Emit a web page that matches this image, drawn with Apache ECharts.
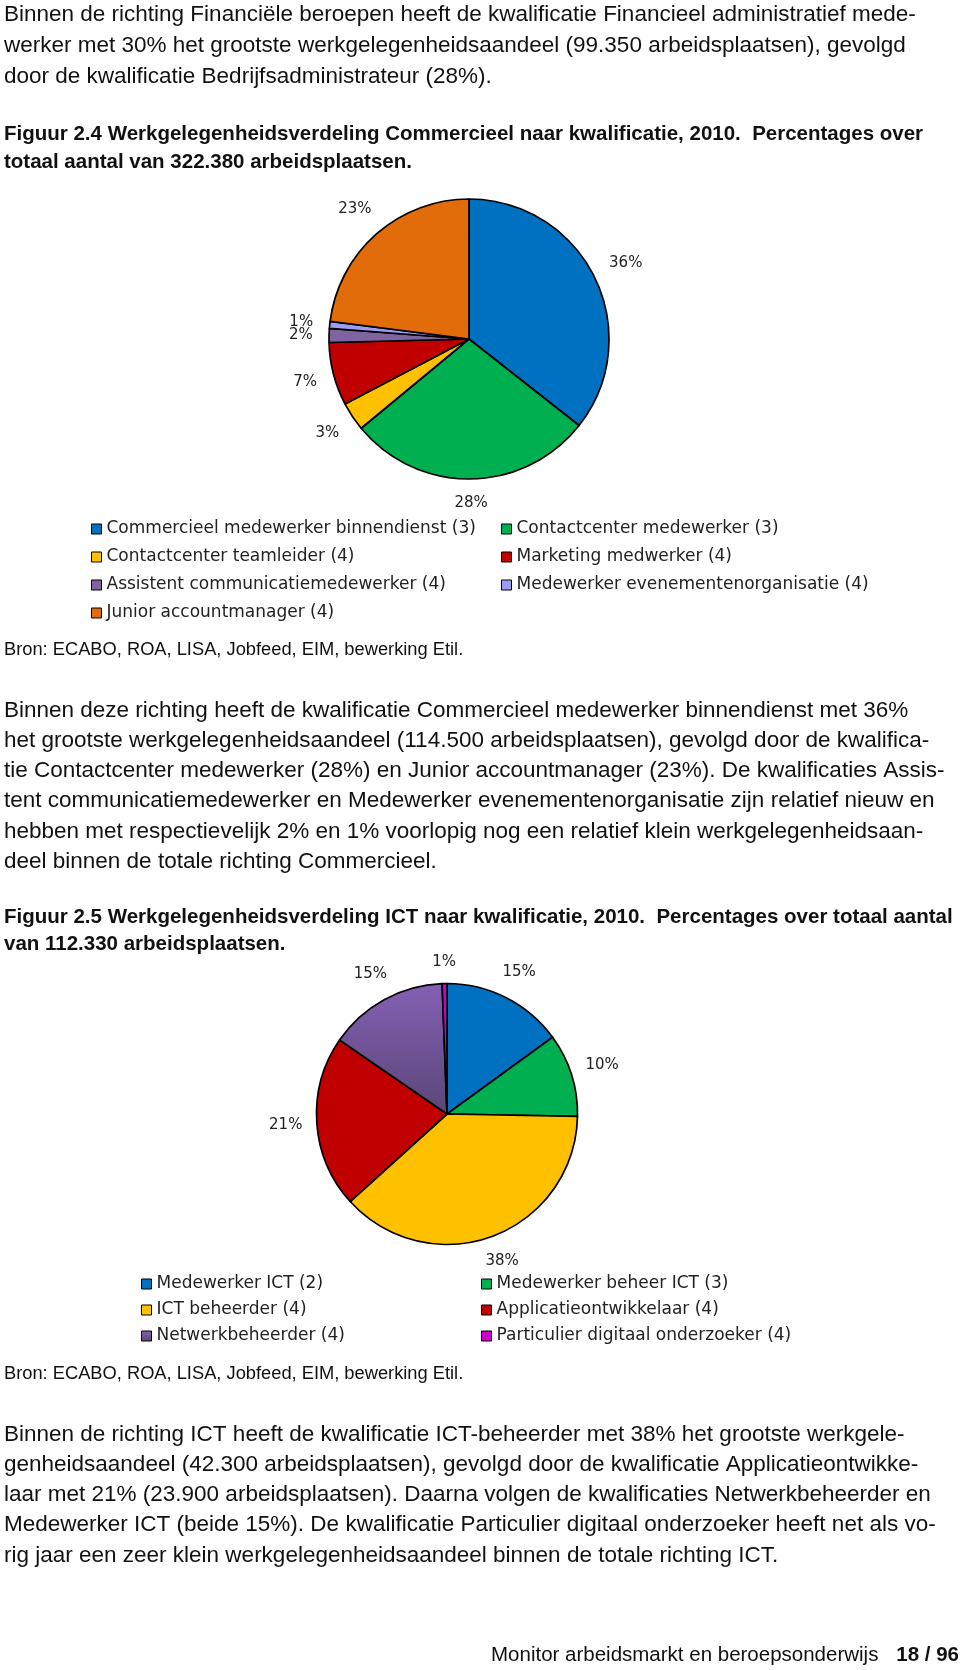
<!DOCTYPE html>
<html><head><meta charset="utf-8">
<script src="https://cdn.jsdelivr.net/npm/echarts@6/dist/echarts.min.js"></script>
<style>html,body{margin:0;padding:0;background:#fff}#c{width:960px;height:1670px}</style>
</head><body><div id="c"></div>
<script>
// ---- data ----
const commCategories = ['Commercieel medewerker binnendienst (3)', 'Contactcenter medewerker (3)', 'Contactcenter teamleider (4)', 'Marketing medwerker (4)', 'Assistent communicatiemedewerker (4)', 'Medewerker evenementenorganisatie (4)', 'Junior accountmanager (4)'];
const commValues = [35.6, 28.4, 3.3, 7.3, 1.6, 0.8, 23.0];
const ictCategories = ['Medewerker ICT (2)', 'Medewerker beheer ICT (3)', 'ICT beheerder (4)', 'Applicatieontwikkelaar (4)', 'Netwerkbeheerder (4)', 'Particulier digitaal onderzoeker (4)'];
const ictValues = [15.0, 10.3, 38.0, 21.3, 14.8, 0.6];

const para1 = ['Binnen de richting Financiële beroepen heeft de kwalificatie Financieel administratief mede-', 'werker met 30% het grootste werkgelegenheidsaandeel (99.350 arbeidsplaatsen), gevolgd', 'door de kwalificatie Bedrijfsadministrateur (28%).'];
const title1 = ['Figuur 2.4 Werkgelegenheidsverdeling Commercieel naar kwalificatie, 2010.  Percentages over', 'totaal aantal van 322.380 arbeidsplaatsen.'];
const source = 'Bron: ECABO, ROA, LISA, Jobfeed, EIM, bewerking Etil.';
const para2 = ['Binnen deze richting heeft de kwalificatie Commercieel medewerker binnendienst met 36%', 'het grootste werkgelegenheidsaandeel (114.500 arbeidsplaatsen), gevolgd door de kwalifica-', 'tie Contactcenter medewerker (28%) en Junior accountmanager (23%). De kwalificaties Assis-', 'tent communicatiemedewerker en Medewerker evenementenorganisatie zijn relatief nieuw en', 'hebben met respectievelijk 2% en 1% voorlopig nog een relatief klein werkgelegenheidsaan-', 'deel binnen de totale richting Commercieel.'];
const title2 = ['Figuur 2.5 Werkgelegenheidsverdeling ICT naar kwalificatie, 2010.  Percentages over totaal aantal', 'van 112.330 arbeidsplaatsen.'];
const para3 = ['Binnen de richting ICT heeft de kwalificatie ICT-beheerder met 38% het grootste werkgele-', 'genheidsaandeel (42.300 arbeidsplaatsen), gevolgd door de kwalificatie Applicatieontwikke-', 'laar met 21% (23.900 arbeidsplaatsen). Daarna volgen de kwalificaties Netwerkbeheerder en', 'Medewerker ICT (beide 15%). De kwalificatie Particulier digitaal onderzoeker heeft net als vo-', 'rig jaar een zeer klein werkgelegenheidsaandeel binnen de totale richting ICT.'];
const footerText = 'Monitor arbeidsmarkt en beroepsonderwijs';
const footerPage = '18 / 96';

// ---- styles ----
const commColors = ['#0070C0', '#00B050', '#FFC000', '#C00000', '#8064A2', '#9D9DF5', '#E36C0A'];
const ictColors = ['#0070C0', '#00B050', '#FFC000', '#C00000',
  {type: 'linear', x: 0, y: 0, x2: 0, y2: 1, colorStops: [{offset: 0, color: '#8460B4'}, {offset: 1, color: '#5A4676'}]},
  '#CC00CC'];
const bodyFont = '22.5px "Liberation Sans", Arial, sans-serif';
const boldFont = 'bold 20.5px "Liberation Sans", Arial, sans-serif';
const srcFont = '18.3px "Liberation Sans", Arial, sans-serif';
const chartFont = '"DejaVu Sans", Verdana, sans-serif';

function lines(arr, x, yCenters, font, align) {
  return arr.map((t, i) => ({
    type: 'text', x: x, y: yCenters[i], silent: true,
    style: {text: t, font: font, fill: '#111', verticalAlign: 'middle', align: align || 'left'}
  }));
}

function pieSeries(cats, vals, colors, center, r, gap) {
  const total = vals.reduce((a, b) => a + b, 0);
  return {
    type: 'pie', center: center, radius: r, startAngle: 90, clockwise: true, silent: true,
    animation: false, emphasis: {disabled: true}, avoidLabelOverlap: false,
    data: cats.map((c, i) => ({name: c, value: vals[i], itemStyle: {color: colors[i]}})),
    label: {show: true, position: 'outside', formatter: p => Math.round(p.percent) + '%',
      fontFamily: chartFont, fontSize: 15, color: '#222'},
    labelLine: {show: false},
    labelLayout: function (p) {
      const i = p.dataIndex;
      let cum = 0;
      for (let k = 0; k < i; k++) cum += vals[k];
      const mid = (cum + vals[i] / 2) / total * Math.PI * 2;
      const ux = Math.sin(mid), uy = -Math.cos(mid);
      const w = p.labelRect.width / 2, h = p.labelRect.height / 2;
      const d = r + gap + Math.abs(ux) * w + Math.abs(uy) * h;
      return {x: center[0] + ux * d, y: center[1] + uy * d, align: 'center', verticalAlign: 'middle', hideOverlap: false};
    },
    itemStyle: {borderColor: '#000', borderWidth: 1.7}
  };
}

function legendCol(data, left, top, gap) {
  return {
    data: data, left: left, top: top, orient: 'vertical', padding: 0, itemGap: gap,
    itemWidth: 10, itemHeight: 10, icon: 'rect', selectedMode: false,
    itemStyle: {borderColor: '#000', borderWidth: 1},
    textStyle: {fontFamily: chartFont, fontSize: 17, color: '#222', lineHeight: 18}
  };
}

const graphics = [].concat(
  lines(para1, 4, [15, 46, 77], bodyFont),
  lines(title1, 4, [134, 162], boldFont),
  lines([source], 4, [650], srcFont),
  lines(para2, 4, [711, 741, 771, 801, 832, 862], bodyFont),
  lines(title2, 4, [917, 944], boldFont),
  lines([source], 4, [1374], srcFont),
  lines(para3, 4, [1435, 1465, 1495, 1525, 1556], bodyFont),
  lines([footerText], 491, [1655], '20.5px "Liberation Sans", Arial, sans-serif'),
  lines([footerPage], 959, [1655], 'bold 20.5px "Liberation Sans", Arial, sans-serif', 'right')
);

const chart = echarts.init(document.getElementById('c'), null, {renderer: 'canvas'});
chart.setOption({
  animation: false,
  backgroundColor: '#fff',
  legend: [
    legendCol(commCategories.filter((_, i) => i % 2 === 0), 91, 520, 10),
    legendCol(commCategories.filter((_, i) => i % 2 === 1), 501, 520, 10),
    legendCol(ictCategories.filter((_, i) => i % 2 === 0), 141, 1275, 8),
    legendCol(ictCategories.filter((_, i) => i % 2 === 1), 481, 1275, 8)
  ],
  series: [
    pieSeries(commCategories, commValues, commColors, [469, 339], 140, 16),
    pieSeries(ictCategories, ictValues, ictColors, [447, 1114], 130.5, 14)
  ],
  graphic: graphics
});
</script></body></html>
